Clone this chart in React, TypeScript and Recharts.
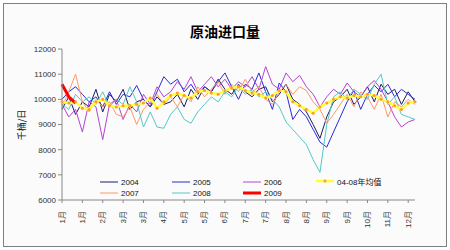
import { Line, LineChart, XAxis, YAxis } from "recharts";

// 周度数据, 千桶/日
const monthLabels = ["1月", "1月", "2月", "3月", "3月", "4月", "5月", "5月", "6月", "7月", "7月", "8月", "8月", "9月", "9月", "10月", "11月", "12月"];
const tickWeeks = monthLabels.map((_, k) => k * 3);
const yTicks = [6000, 7000, 8000, 9000, 10000, 11000, 12000];

const y2004 = [9600, 10100, 9400, 9900, 9700, 10400, 9500, 10200, 9900, 10400, 9600, 9900, 10000, 9700, 10100, 9800, 9900, 10200, 9700, 10400, 10000, 10500, 10300, 10800, 10400, 10200, 10600, 10300, 10100, 10400, 10500, 9900, 10200, 10600, 10000, 9800, 9500, 9000, 8450, 9300, 9900, 10100, 10400, 9800, 10100, 10500, 9900, 10600, 10200, 10400, 9800, 10300, 9900];
const y2005 = [10000, 10300, 10500, 10200, 9900, 10100, 9700, 10300, 9800, 10200, 10100, 10550, 10000, 9700, 10300, 10900, 10600, 10800, 10300, 10600, 10200, 10500, 10300, 10700, 11050, 10500, 10000, 10600, 10400, 11050, 10300, 9600, 10650, 10300, 9200, 9600, 9300, 8800, 8300, 8100, 8700, 9300, 9900, 10350, 9600, 10200, 10550, 10300, 10600, 10100, 10400, 10200, 10000];
const y2006 = [9800, 9300, 9600, 8700, 9900, 9700, 8400, 9800, 10000, 9200, 9800, 9500, 10200, 9800, 10500, 10100, 10300, 10700, 10400, 10900, 10300, 10600, 10900, 10500, 10800, 10400, 10700, 10500, 10900, 10400, 11300, 10600, 10400, 11050, 10700, 10950, 10500, 10200, 9700, 10100, 10400, 10200, 10650, 10300, 10100, 10500, 10750, 10400, 9900, 9300, 8900, 9100, 9200];
const y2007 = [9700, 10300, 11000, 9900, 9500, 10000, 9700, 9900, 9400, 9300, 9700, 9000, 9600, 9900, 10200, 9800, 10100, 9700, 10200, 9900, 10500, 10100, 10400, 10700, 10200, 10600, 10300, 10800, 10300, 10500, 10000, 9800, 10300, 10600, 10200, 10500, 10350, 9900, 9600, 9050, 9400, 9800, 10200, 9700, 10300, 10100, 9600, 10200, 9300, 9900, 9700, 10000, 9800];
const y2008 = [9800, 9600, 10200, 9900, 10100, 9800, 10300, 9700, 10000, 9800, 10500, 9900, 8900, 9500, 8900, 8850, 9400, 9700, 9200, 9050, 9500, 9800, 10100, 9900, 10300, 10100, 10500, 10200, 10400, 10100, 10300, 10000, 9700, 9100, 8800, 8500, 8200, 7600, 7100, 9000, 10100, 10300, 10000, 10400, 10200, 10000, 10600, 11000, 9800, 10100, 9400, 9300, 9200];
const y2009 = [10600, 10100, 9850];
const avg0408 = [9900, 9850, 9900, 9650, 9600, 9900, 10000, 9750, 9700, 9750, 9750, 9800, 9850, 10050, 9650, 9900, 10150, 10250, 10150, 10050, 10300, 10350, 10250, 10200, 10350, 10450, 10500, 10350, 10250, 10200, 10050, 10150, 10350, 10300, 9900, 9750, 9600, 9450, 9700, 9850, 10000, 10100, 10050, 10150, 10100, 10200, 10150, 10000, 9900, 9750, 9600, 9850, 9900];

const data = avg0408.map((v, i) => ({
  wk: i,
  y2004: y2004[i],
  y2005: y2005[i],
  y2006: y2006[i],
  y2007: y2007[i],
  y2008: y2008[i],
  avg: v,
  y2009: y2009[i] ?? null,
}));

const series = [
  { key: "y2004", name: "2004", color: "#1c1c66", width: 1 },
  { key: "y2005", name: "2005", color: "#2a2ad8", width: 1 },
  { key: "y2006", name: "2006", color: "#b444d4", width: 1 },
  { key: "y2007", name: "2007", color: "#ff9966", width: 1 },
  { key: "y2008", name: "2008", color: "#55c8c8", width: 1 },
  { key: "avg", name: "04-08年均值", color: "#ffff33", width: 2.5 },
  { key: "y2009", name: "2009", color: "#ff0000", width: 3 },
];

const font = "'Liberation Sans', Arial, 'Noto Sans CJK SC', sans-serif";

const legendPos: Record<string, { left: number; top: number }> = {
  y2004: { left: 100, top: 177 },
  y2005: { left: 172, top: 177 },
  y2006: { left: 243, top: 177 },
  avg: { left: 316, top: 176 },
  y2007: { left: 100, top: 188 },
  y2008: { left: 172, top: 188 },
  y2009: { left: 243, top: 188 },
};

const MonthTick = ({ x, y, payload }: any) => (
  <text
    transform={`translate(${x},${y + 6}) rotate(-90)`}
    textAnchor="end"
    dominantBaseline="central"
    fontSize={8}
    fill="#333"
    fontFamily={font}
  >
    {monthLabels[payload.value / 3]}
  </text>
);

export default function App() {
  return (
    <div style={{ position: "absolute", left: 0, top: 0, width: 450, height: 250, background: "#fff" }}>
      <div
        style={{
          position: "absolute",
          left: 3,
          top: 3,
          width: 442,
          height: 242,
          border: "1px solid #808080",
          background: "#fbfbfb",
        }}
      />
      <div
        style={{
          position: "absolute",
          left: 0,
          width: 450,
          top: 22,
          textAlign: "center",
          fontFamily: "'Noto Sans CJK SC', sans-serif",
          fontWeight: 700,
          fontSize: 14,
          lineHeight: "18px",
          color: "#000",
        }}
      >
        原油进口量
      </div>
      <div
        style={{
          position: "absolute",
          left: 21,
          top: 125,
          transform: "translate(-50%, -50%) rotate(-90deg)",
          fontFamily: "'Noto Sans CJK SC', sans-serif",
          fontSize: 9,
          whiteSpace: "nowrap",
          color: "#222",
        }}
      >
        千桶/日
      </div>
      <div style={{ position: "absolute", left: 0, top: 0 }}>
        <LineChart width={450} height={250} data={data} margin={{ top: 49, right: 35, left: 12, bottom: 20 }}>
          <XAxis
            dataKey="wk"
            type="number"
            domain={[0, 52]}
            ticks={tickWeeks}
            tick={<MonthTick />}
            tickSize={3}
            interval={0}
            stroke="#888"
            height={30}
          />
          <YAxis
            domain={[6000, 12000]}
            ticks={yTicks}
            width={50}
            tickSize={4}
            stroke="#888"
            tick={{ fontSize: 8, fill: "#333", fontFamily: font }}
            interval={0}
          />
          {series.map((s) => (
            <Line
              key={s.key}
              dataKey={s.key}
              name={s.name}
              stroke={s.color}
              strokeWidth={s.width}
              dot={s.key === "avg" ? { r: 1.5, fill: "#ff9933", stroke: "none" } : false}
              activeDot={false}
              connectNulls={false}
              isAnimationActive={false}
            />
          ))}
        </LineChart>
      </div>
      {series.map((s) => (
        <div
          key={s.key}
          style={{
            position: "absolute",
            left: legendPos[s.key].left,
            top: legendPos[s.key].top,
            display: "flex",
            alignItems: "center",
            fontFamily: font,
            fontSize: 8,
            color: "#111",
            whiteSpace: "nowrap",
            height: 10,
          }}
        >
          <svg width={19} height={10} style={{ marginRight: 2 }}>
            <line x1={0} y1={5} x2={18} y2={5} stroke={s.color} strokeWidth={s.width} />
            {s.key === "avg" && <circle cx={9} cy={5} r={1.5} fill="#ff9933" />}
          </svg>
          {s.name}
        </div>
      ))}
    </div>
  );
}
